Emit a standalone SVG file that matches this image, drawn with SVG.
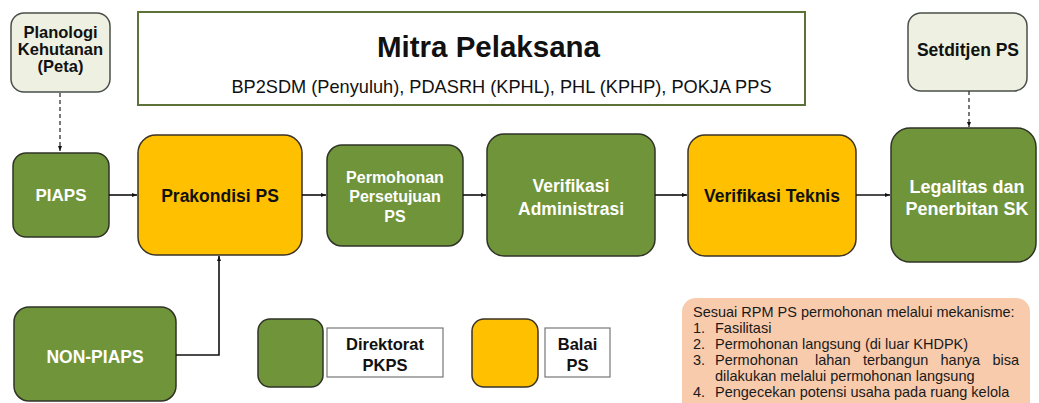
<svg xmlns="http://www.w3.org/2000/svg" width="1039" height="403" viewBox="0 0 1039 403">
<defs>
<marker id="ah" viewBox="0 0 10 10" refX="10" refY="5" markerWidth="5" markerHeight="5" orient="auto" markerUnits="userSpaceOnUse">
<path d="M0,1 L10,5 L0,9 z" fill="#111"/>
</marker>
<style>
.g{fill:#70943a;stroke:#2f3326;stroke-width:1.5}
.y{fill:#ffc000;stroke:#3a3326;stroke-width:1.5}
.l{fill:#eef1e2;stroke:#4a4f4a;stroke-width:1.5}
.t{font-family:"Liberation Sans",Arial,sans-serif;font-weight:bold;text-anchor:middle}
.w{fill:#ffffff}
.k{fill:#111111}
.c{fill:none;stroke:#111;stroke-width:1.6}
.d{fill:none;stroke:#333;stroke-width:1.3;stroke-dasharray:4 3}
.n{font-family:"Liberation Sans",Arial,sans-serif;font-size:14.5px;fill:#1a1a1a}
</style>
</defs>
<rect width="1039" height="403" fill="#ffffff"/>

<g id="mitra">
<rect x="138" y="12" width="667" height="93" fill="#ffffff" stroke="#5d7238" stroke-width="2"/>
<text class="t k" x="488.5" y="57" font-size="29.5">Mitra Pelaksana</text>
<text x="501.5" y="93" font-family="'Liberation Sans',Arial,sans-serif" font-size="18.2" fill="#111" text-anchor="middle">BP2SDM (Penyuluh), PDASRH (KPHL), PHL (KPHP), POKJA PPS</text>
</g>

<g id="planologi">
<rect class="l" x="11" y="13" width="99" height="79" rx="13"/>
<text class="t k" font-size="16.5"><tspan x="60.5" y="38">Planologi</tspan><tspan x="60.5" y="55">Kehutanan</tspan><tspan x="60.5" y="72">(Peta)</tspan></text>
</g>

<g id="setditjen">
<rect class="l" x="908" y="13" width="119" height="78" rx="13"/>
<text class="t k" x="968" y="56" font-size="17.5">Setditjen PS</text>
</g>

<g id="piaps">
<rect class="g" x="13" y="153" width="96" height="84" rx="13"/>
<text class="t w" x="61" y="201" font-size="17">PIAPS</text>
</g>

<g id="prakondisi">
<rect class="y" x="138" y="135" width="164" height="120" rx="18"/>
<text class="t k" x="220" y="202" font-size="17.5">Prakondisi PS</text>
</g>

<g id="permohonan">
<rect class="g" x="327" y="145" width="136" height="101" rx="15"/>
<text class="t w" font-size="16"><tspan x="395" y="183">Permohonan</tspan><tspan x="395" y="202">Persetujuan</tspan><tspan x="395" y="222">PS</tspan></text>
</g>

<g id="verif-admin">
<rect class="g" x="487" y="134" width="168" height="122" rx="17"/>
<text class="t w" font-size="17.5"><tspan x="571" y="192">Verifikasi</tspan><tspan x="571" y="215">Administrasi</tspan></text>
</g>

<g id="verif-teknis">
<rect class="y" x="688" y="135" width="168" height="121" rx="17"/>
<text class="t k" x="772" y="202" font-size="17.5">Verifikasi Teknis</text>
</g>

<g id="legalitas">
<rect class="g" x="891" y="128" width="145" height="134" rx="19"/>
<text class="t w" font-size="18"><tspan x="967" y="193">Legalitas dan</tspan><tspan x="967" y="215">Penerbitan SK</tspan></text>
</g>

<g id="non-piaps">
<rect class="g" x="14" y="307" width="162" height="94" rx="15"/>
<text class="t w" x="95" y="363" font-size="17.5">NON-PIAPS</text>
</g>

<g id="legend-direktorat">
<rect class="g" x="258" y="319" width="65" height="68" rx="12"/>
<rect x="327" y="328" width="116" height="49" fill="#ffffff" stroke="#777" stroke-width="1.2"/>
<text class="t k" font-size="16.5"><tspan x="385" y="350">Direktorat</tspan><tspan x="385" y="371">PKPS</tspan></text>
</g>

<g id="legend-balai">
<rect class="y" x="472" y="319" width="66" height="68" rx="12"/>
<rect x="545" y="328" width="65" height="49" fill="#ffffff" stroke="#777" stroke-width="1.2"/>
<text class="t k" font-size="16.5"><tspan x="577.5" y="350">Balai</tspan><tspan x="577.5" y="371">PS</tspan></text>
</g>

<g id="note">
<rect x="682" y="298" width="348" height="120" rx="14" fill="#f8cbad"/>
<text class="n" x="693" y="317">Sesuai RPM PS permohonan melalui mekanisme:</text>
<text class="n" x="693" y="333">1.</text><text class="n" x="715" y="333">Fasilitasi</text>
<text class="n" x="693" y="349">2.</text><text class="n" x="715" y="349">Permohonan langsung (di luar KHDPK)</text>
<text class="n" x="693" y="365">3.</text><text class="n" x="715" y="365">Permohonan</text><text class="n" x="815" y="365">lahan</text><text class="n" x="863" y="365">terbangun</text><text class="n" x="940.5" y="365">hanya</text><text class="n" x="1019" y="365" text-anchor="end">bisa</text>
<text class="n" x="715" y="381">dilakukan melalui permohonan langsung</text>
<text class="n" x="693" y="397">4.</text><text class="n" x="715" y="397">Pengecekan potensi usaha pada ruang kelola</text>
</g>

<g id="connectors">
<path class="d" d="M60,93 V151" marker-end="url(#ah)"/>
<path class="d" d="M969,91 V127" marker-end="url(#ah)"/>
<path class="c" d="M109,195 H137" marker-end="url(#ah)"/>
<path class="c" d="M302,195 H326" marker-end="url(#ah)"/>
<path class="c" d="M463,195 H486" marker-end="url(#ah)"/>
<path class="c" d="M655,195 H687" marker-end="url(#ah)"/>
<path class="c" d="M856,195 H890" marker-end="url(#ah)"/>
<path class="c" d="M176,355 H219 V256" marker-end="url(#ah)"/>
</g>
</svg>
